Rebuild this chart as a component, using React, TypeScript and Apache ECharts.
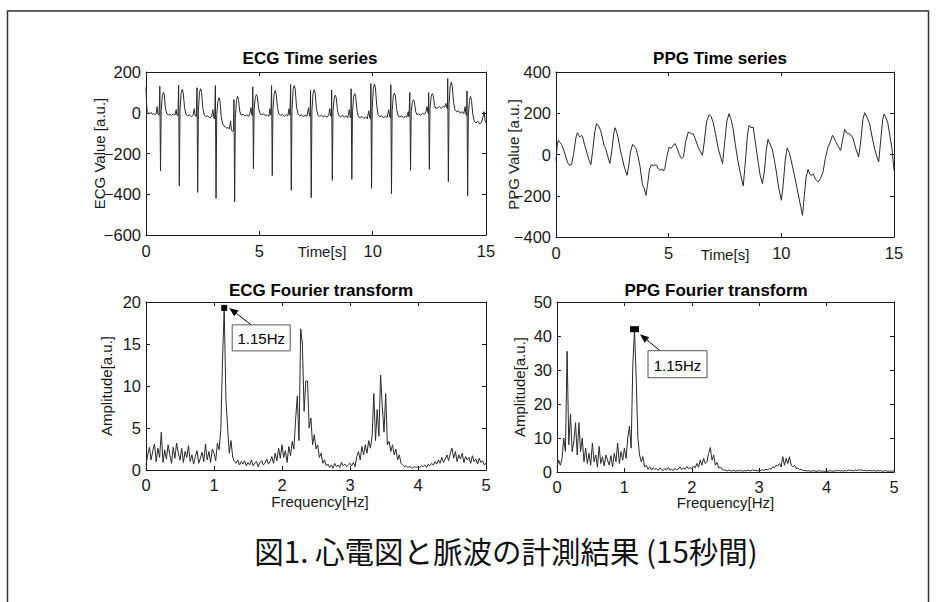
import React, { useEffect, useRef } from "react";
import * as echarts from "echarts";

// ---------- DATA ----------
// ECG time series [time s, value a.u.]
const ecgPoints: [number, number][] = [
  [0.0, 125], [0.02, 60], [0.05, 5], [0.1, 0], [0.16, -5], [0.22, 2], [0.28, -8], [0.34, -3], [0.4, -10], [0.45, -6], [0.49, 30], [0.53, -8], [0.58, -12],
  [0.61, 130], [0.64, -286], [0.67, 10], [0.72, 85], [0.77, 100], [0.8, 92], [0.86, 20], [0.92, -5], [0.98, -10], [1.05, -8], [1.12, -14], [1.2, -5], [1.28, -12], [1.33, 15], [1.36, -10], [1.41, -15],
  [1.44, 135], [1.47, -360], [1.5, 15], [1.55, 95], [1.6, 115], [1.64, 100], [1.7, 25], [1.76, -8], [1.84, -15], [1.92, -10], [2.0, -20], [2.08, -12], [2.13, 20], [2.17, -15], [2.22, -18],
  [2.25, 123], [2.28, -391], [2.31, 10], [2.36, 100], [2.41, 118], [2.45, 100], [2.51, 20], [2.57, -10], [2.65, -20], [2.73, -15], [2.82, -25], [2.9, -18], [2.95, 15], [2.99, -25], [3.03, -30],
  [3.06, 133], [3.09, -420], [3.12, -10], [3.17, 55], [3.22, 73], [3.26, 60], [3.32, -20], [3.38, -55], [3.44, -65], [3.5, -70], [3.56, -75], [3.62, -72], [3.68, -80], [3.73, -40], [3.77, -85], [3.82, -92], [3.86, -88],
  [3.88, 64], [3.91, -437], [3.94, -30], [3.99, 60], [4.04, 80], [4.08, 65], [4.14, 5], [4.2, -12], [4.28, -8], [4.36, -15], [4.44, -10], [4.52, -18], [4.58, -5], [4.63, 25], [4.67, -10], [4.7, -15],
  [4.71, 127], [4.74, -275], [4.77, 15], [4.82, 75], [4.87, 89], [4.91, 80], [4.97, 20], [5.03, -5], [5.11, -10], [5.19, -5], [5.27, -15], [5.35, -10], [5.42, -18], [5.47, 20], [5.51, -12],
  [5.54, 133], [5.57, -308], [5.6, 10], [5.65, 90], [5.7, 109], [5.74, 95], [5.8, 25], [5.86, -5], [5.94, -12], [6.02, -8], [6.1, -18], [6.18, -10], [6.26, -15], [6.31, 20], [6.35, -12],
  [6.38, 138], [6.41, -380], [6.44, 15], [6.49, 115], [6.54, 133], [6.58, 120], [6.64, 30], [6.7, -5], [6.78, -15], [6.86, -10], [6.94, -20], [7.02, -12], [7.1, -18], [7.17, 25], [7.21, -15], [7.24, -18],
  [7.26, 110], [7.29, -417], [7.32, 10], [7.37, 95], [7.42, 113], [7.46, 100], [7.52, 20], [7.58, -10], [7.66, -18], [7.74, -12], [7.82, -20], [7.9, -15], [7.98, -22], [8.06, -12], [8.11, 20], [8.15, -15], [8.18, -20],
  [8.19, 112], [8.22, -332], [8.25, 5], [8.3, 70], [8.35, 86], [8.39, 75], [8.45, 10], [8.51, -15], [8.59, -20], [8.67, -12], [8.75, -22], [8.83, -15], [8.9, -25], [8.97, 15], [9.01, -20], [9.04, -25],
  [9.05, 118], [9.08, -327], [9.11, 5], [9.16, 78], [9.21, 94], [9.25, 80], [9.31, 10], [9.37, -20], [9.45, -25], [9.53, -18], [9.61, -28], [9.69, -20], [9.76, -30], [9.83, 10], [9.87, -25], [9.91, -30],
  [9.92, 143], [9.95, -371], [9.98, 20], [10.03, 120], [10.08, 140], [10.12, 125], [10.18, 35], [10.24, -10], [10.32, -20], [10.4, -15], [10.48, -25], [10.56, -18], [10.64, -22], [10.71, 15], [10.75, -20], [10.79, -25],
  [10.8, 138], [10.83, -398], [10.86, 10], [10.91, 80], [10.96, 97], [11.0, 85], [11.06, 15], [11.12, -15], [11.2, -20], [11.28, -15], [11.36, -25], [11.44, -18], [11.51, -22], [11.57, 5], [11.6, -20], [11.62, -22],
  [11.64, 99], [11.67, -282], [11.7, 5], [11.75, 50], [11.8, 64], [11.84, 55], [11.9, 5], [11.96, -10], [12.04, -5], [12.12, -12], [12.2, -2], [12.28, -8], [12.35, 5], [12.4, 30], [12.44, 0], [12.46, -5],
  [12.47, 99], [12.5, -278], [12.53, 25], [12.58, 80], [12.63, 94], [12.67, 85], [12.73, 35], [12.79, 20], [12.87, 25], [12.95, 30], [13.03, 22], [13.11, 30], [13.18, 28], [13.23, 45], [13.27, 25], [13.3, 20],
  [13.31, 168], [13.34, -339], [13.37, 40], [13.42, 130], [13.47, 150], [13.51, 130], [13.57, 50], [13.63, 15], [13.71, 5], [13.79, 10], [13.87, -2], [13.95, 5], [14.02, -5], [14.08, 30], [14.12, -10], [14.15, -15],
  [14.16, 107], [14.19, -407], [14.22, -15], [14.27, 60], [14.32, 80], [14.36, 60], [14.42, -10], [14.48, -40], [14.56, -50], [14.64, -42], [14.72, -55], [14.8, -48], [14.87, -20], [14.92, 5], [14.96, -40], [15.0, -50],
];

// PPG time series [time s, value a.u.]
const ppgPoints: [number, number][] = [
  [0.0, -30], [0.05, 40], [0.1, 69], [0.18, 58], [0.25, 48], [0.33, 25], [0.44, -12], [0.52, -40], [0.59, -52], [0.69, -49], [0.78, 0], [0.88, 80], [0.95, 106], [1.0, 95], [1.06, 85], [1.12, 92], [1.17, 90], [1.26, 50], [1.36, 12], [1.46, -25], [1.55, -49],
  [1.63, 20], [1.72, 110], [1.8, 150], [1.88, 140], [1.98, 117], [2.06, 80], [2.13, 45], [2.2, 30], [2.3, -10], [2.39, -44], [2.48, 20], [2.56, 100], [2.62, 130], [2.69, 110], [2.76, 80], [2.84, 30], [2.91, -4], [3.03, -60], [3.15, -101],
  [3.22, -60], [3.3, 10], [3.4, 49], [3.47, 40], [3.55, 28], [3.64, -10], [3.72, -52], [3.84, -149], [3.92, -165], [3.99, -198], [4.06, -150], [4.15, -70], [4.24, -49], [4.32, -55], [4.4, -50], [4.46, -52], [4.54, -70], [4.61, -77], [4.7, -70], [4.77, -80], [4.83, -68],
  [4.92, -10], [5.02, 36], [5.1, 30], [5.18, 40], [5.28, 53], [5.38, 30], [5.47, 0], [5.57, -20], [5.66, -10], [5.75, 60], [5.87, 109], [5.95, 105], [6.02, 100], [6.09, 101], [6.2, 70], [6.31, 36], [6.4, 15], [6.5, -4],
  [6.58, 60], [6.68, 160], [6.8, 193], [6.88, 185], [6.97, 158], [7.08, 100], [7.2, 28], [7.3, -10], [7.39, -44], [7.48, 50], [7.58, 160], [7.68, 198], [7.77, 170], [7.86, 125], [7.97, 40], [8.08, -36], [8.2, -100], [8.31, -152],
  [8.4, -40], [8.5, 100], [8.57, 141], [8.65, 130], [8.75, 133], [8.86, 50], [8.97, -36], [9.06, -100], [9.16, -141], [9.25, -80], [9.33, 20], [9.41, 74], [9.5, 50], [9.59, 28], [9.68, -20], [9.78, -85], [9.88, -160], [9.94, -190], [10.0, -222],
  [10.08, -150], [10.17, -30], [10.26, 32], [10.35, 10], [10.45, -36], [10.58, -100], [10.7, -165], [10.82, -230], [10.94, -295], [11.02, -200], [11.1, -110], [11.19, -72], [11.26, -95], [11.33, -101], [11.42, -95], [11.52, -120], [11.63, -133], [11.74, -115], [11.85, -85],
  [11.95, -20], [12.07, 36], [12.17, 60], [12.27, 93], [12.34, 80], [12.41, 64], [12.52, 40], [12.63, 20], [12.72, 70], [12.81, 122], [12.9, 105], [13.0, 101], [13.08, 95], [13.18, 80], [13.3, 30], [13.43, -12],
  [13.52, 60], [13.62, 170], [13.7, 203], [13.8, 180], [13.92, 150], [14.02, 90], [14.14, 28], [14.24, -10], [14.32, -36], [14.42, 80], [14.5, 170], [14.56, 196], [14.64, 180], [14.73, 150], [14.82, 90], [14.91, 28], [15.0, -77],
];

// Spectra: amplitude per frequency bin, bins from 0 Hz to 5 Hz every freqStep
const freqStep = 0.025;
const ecgSpectrum: number[] = [
  0.6, 1.8, 2.7, 1.2, 2.3, 3.1, 1.0, 2.6, 1.5, 4.5, 0.9, 2.4, 1.3, 3.0, 1.8, 0.8, 2.7, 1.4, 3.2, 2.0,
  1.2, 2.6, 0.9, 2.2, 1.5, 2.9, 1.0, 1.8, 0.7, 1.6, 2.3, 0.8, 1.4, 2.1, 1.0, 3.1, 1.2, 2.2, 0.9, 2.5,
  2.0, 1.1, 3.2, 2.4, 4.8, 13.0, 19.3, 8.5, 5.0, 2.0, 3.5, 1.5, 1.0, 0.8, 1.2, 0.6, 1.0, 0.7, 1.1, 0.5,
  0.9, 0.6, 1.2, 0.5, 0.8, 1.0, 0.4, 0.9, 1.1, 0.6, 0.8, 1.3, 0.7, 1.0, 1.6, 0.8, 2.0, 1.1, 2.6, 1.4,
  3.0, 1.5, 2.3, 0.9, 2.8, 1.7, 3.4, 2.5, 6.0, 8.8, 3.5, 16.8, 15.0, 7.0, 10.6, 10.6, 5.0, 6.2, 3.0, 4.2,
  2.5, 3.0, 1.5, 2.0, 0.8, 1.2, 0.5, 0.7, 0.3, 0.6, 0.2, 0.8, 0.4, 0.6, 0.3, 0.9, 0.5, 0.7, 0.4, 0.6,
  0.8, 0.5, 0.9, 0.4, 1.6, 2.2, 1.2, 2.8, 1.8, 3.0, 2.0, 3.5, 2.6, 4.0, 9.1, 3.5, 7.2, 4.0, 11.3, 7.6,
  4.5, 9.1, 3.0, 3.4, 2.2, 3.0, 1.8, 2.5, 1.2, 1.8, 0.8, 0.6, 0.4, 0.5, 0.3, 0.4, 0.3, 0.2, 0.4, 0.3,
  0.4, 0.3, 0.5, 0.4, 0.6, 0.3, 0.7, 0.5, 0.8, 0.6, 1.0, 0.7, 1.2, 0.8, 1.5, 0.9, 1.3, 1.8, 1.1, 2.0,
  2.6, 1.4, 2.2, 1.0, 1.8, 1.3, 2.0, 0.9, 1.6, 1.2, 1.5, 0.8, 1.7, 1.0, 1.3, 0.7, 1.4, 0.9, 1.1, 0.6,
  0.8,
];
const ppgSpectrum: number[] = [
  1.5, 3.5, 2.0, 4.0, 10.0, 6.0, 35.5, 8.0, 17.0, 6.0, 9.0, 14.5, 5.0, 14.5, 6.0, 10.0, 3.0, 7.0, 2.5, 5.5,
  2.0, 8.5, 3.0, 5.0, 1.5, 7.5, 2.5, 4.5, 1.8, 5.0, 3.5, 2.0, 4.8, 1.5, 5.5, 3.0, 8.5, 2.5, 6.0, 3.5,
  7.0, 4.0, 10.0, 13.5, 7.0, 31.5, 42.0, 27.5, 10.0, 5.0, 3.0, 4.5, 1.5, 2.0, 0.8, 1.5, 0.6, 1.2, 0.8, 1.0,
  0.5, 1.2, 0.7, 0.4, 1.0, 0.6, 1.3, 0.5, 0.8, 0.4, 1.1, 0.6, 0.9, 1.5, 0.7, 1.2, 0.8, 1.6, 1.0, 1.3,
  0.9, 1.8, 1.2, 2.5, 1.4, 3.5, 2.0, 4.0, 2.5, 3.0, 5.5, 7.2, 3.5, 5.0, 2.0, 2.8, 1.2, 1.5, 0.8, 0.6,
  0.5, 0.3, 0.6, 0.4, 0.3, 0.5, 0.2, 0.4, 0.3, 0.5, 0.2, 0.4, 0.3, 0.5, 0.4, 0.3, 0.6, 0.4, 0.5, 0.3,
  0.5, 0.4, 0.7, 0.5, 0.8, 0.6, 1.0, 0.8, 1.5, 1.2, 2.0, 1.8, 2.5, 1.5, 4.5, 2.0, 4.0, 2.5, 4.5, 2.0,
  1.5, 2.0, 1.0, 1.2, 0.6, 0.8, 0.4, 0.5, 0.3, 0.4, 0.3, 0.2, 0.4, 0.3, 0.2, 0.3, 0.4, 0.2, 0.3, 0.2,
  0.3, 0.2, 0.4, 0.3, 0.2, 0.4, 0.3, 0.5, 0.3, 0.4, 0.2, 0.5, 0.3, 0.6, 0.4, 0.5, 0.3, 0.6, 0.4, 0.7,
  0.5, 0.6, 0.4, 0.5, 0.3, 0.5, 0.4, 0.3, 0.5, 0.2, 0.4, 0.3, 0.5, 0.2, 0.3, 0.4, 0.2, 0.3, 0.2, 0.3,
  0.2,
];

const peakFreq = 1.15;
const ecgPeakAmp = 19.3;
const ppgPeakAmp = 42;
const peakLabel = "1.15Hz";

const panelTitles = ["ECG Time series", "PPG Time series", "ECG Fourier transform", "PPG Fourier transform"];
const xNames = ["Time[s]", "Time[s]", "Frequency[Hz]", "Frequency[Hz]"];
const yNames = ["ECG Value [a.u.]", "PPG Value [a.u.]", "Amplitude[a.u.]", "Amplitude[a.u.]"];
const xRanges = [[0, 15, 5], [0, 15, 5], [0, 5, 1], [0, 5, 1]];
const yRanges = [[-600, 200, 200], [-400, 400, 200], [0, 20, 5], [0, 50, 10]];
const caption = "図1. 心電図と脈波の計測結果 (15秒間)";

// ---------- LAYOUT ----------
const grids = [
  { left: 146, top: 72, width: 340, height: 163 },
  { left: 556, top: 72, width: 338, height: 165 },
  { left: 146, top: 302, width: 340, height: 168 },
  { left: 557, top: 302, width: 337, height: 170 },
];
const xNameGaps = [9, 10, 24, 23];
const xNamePad = [[0, 0, 0, 12], [0, 0, 0, 0], [0, 0, 0, 8], [0, 0, 0, 0]];
const xLabelMargin = [7, 7, 6, 6];
const yNameGaps = [39, 35, 32, 30];
const titlePos = [[310, 58], [720, 58], [321, 290], [716, 290]];

const FONT = "'Liberation Sans', Arial, sans-serif";
const INK = "#1a1a1a";

const fmtNum = (v: number) => String(v).replace("-", "\u2212");

export default function App() {
  const ref = useRef<HTMLDivElement>(null);

  useEffect(() => {
    if (!ref.current) return;
    const chart = echarts.init(ref.current, undefined, { renderer: "svg" });

    const xAxis: any[] = [];
    const yAxis: any[] = [];
    grids.forEach((_, i) => {
      const [xmin, xmax, xint] = xRanges[i];
      const [ymin, ymax, yint] = yRanges[i];
      const common = {
        gridIndex: i,
        type: "value",
        axisLine: { show: true, onZero: false, lineStyle: { color: INK, width: 1 } },
        axisTick: { show: true, inside: true, length: 4, lineStyle: { color: INK } },
        splitLine: { show: false },
      };
      xAxis.push({
        ...common,
        position: "bottom",
        min: xmin, max: xmax, interval: xint,
        name: xNames[i],
        nameLocation: "middle",
        nameGap: xNameGaps[i],
        nameMoveOverlap: false,
        nameTextStyle: { fontFamily: FONT, fontSize: 15, color: INK, padding: xNamePad[i] },
        axisLabel: { show: true, fontFamily: FONT, fontSize: 16.5, color: INK, margin: xLabelMargin[i], formatter: fmtNum },
      });
      xAxis.push({
        ...common,
        position: "top",
        min: xmin, max: xmax, interval: xint,
        axisLabel: { show: false },
      });
      yAxis.push({
        ...common,
        position: "left",
        min: ymin, max: ymax, interval: yint,
        name: yNames[i],
        nameLocation: "middle",
        nameGap: yNameGaps[i],
        nameMoveOverlap: false,
        nameTextStyle: { fontFamily: FONT, fontSize: 15, color: INK },
        axisLabel: { show: true, fontFamily: FONT, fontSize: 16.5, color: INK, margin: 5, formatter: fmtNum },
      });
      yAxis.push({
        ...common,
        position: "right",
        min: ymin, max: ymax, interval: yint,
        axisLabel: { show: false },
      });
    });

    const lineStyle = { color: "#2a2a2a", width: 1 };
    const specData = (arr: number[]) => arr.map((v, i) => [+(i * freqStep).toFixed(3), v]);

    chart.setOption({
      animation: false,
      backgroundColor: "#fff",
      grid: grids,
      xAxis,
      yAxis,
      series: [
        { type: "line", xAxisIndex: 0, yAxisIndex: 0, data: ecgPoints, showSymbol: false, lineStyle, silent: true },
        { type: "line", xAxisIndex: 2, yAxisIndex: 2, data: ppgPoints, showSymbol: false, lineStyle, silent: true },
        {
          type: "line", xAxisIndex: 4, yAxisIndex: 4, data: specData(ecgSpectrum), showSymbol: false, lineStyle, silent: true,
          markPoint: { symbol: "rect", symbolSize: [6, 6], itemStyle: { color: "#000" }, label: { show: false }, data: [{ coord: [peakFreq, ecgPeakAmp] }] },
        },
        {
          type: "line", xAxisIndex: 6, yAxisIndex: 6, data: specData(ppgSpectrum), showSymbol: false, lineStyle, silent: true,
          markPoint: { symbol: "rect", symbolSize: [9, 6], itemStyle: { color: "#000" }, label: { show: false }, data: [{ coord: [peakFreq, ppgPeakAmp] }] },
        },
      ],
    });

    const graphic: any[] = [];
    // outer frame
    graphic.push({
      type: "rect", silent: true, z: -10,
      shape: { x: 7.5, y: 11, width: 921, height: 700 },
      style: { fill: "none", stroke: "#333", lineWidth: 1.5 },
    });
    // titles
    panelTitles.forEach((t, i) => {
      graphic.push({
        type: "text", x: titlePos[i][0], y: titlePos[i][1],
        style: { text: t, fontFamily: FONT, fontSize: 17, fontWeight: "bold", fill: "#000", align: "center", verticalAlign: "middle" },
      });
    });
    // caption
    graphic.push({
      type: "text", x: 506, y: 550,
      style: { text: caption, fontFamily: "'Noto Sans CJK JP', sans-serif", fontSize: 29.5, fill: "#111", align: "center", verticalAlign: "middle" },
    });

    const annotate = (xi: number, yi: number, amp: number, box: number[], tailDx: number, tip: number[]) => {
      const p = chart.convertToPixel({ xAxisIndex: xi, yAxisIndex: yi }, [peakFreq, amp]) as number[];
      const bx = p[0] + box[0], by = p[1] + box[1], bw = box[2], bh = box[3];
      const tx = p[0] + tip[0], ty = p[1] + tip[1];
      const sx = bx + tailDx, sy = by;
      const dx = sx - tx, dy = sy - ty;
      const len = Math.hypot(dx, dy);
      const ux = dx / len, uy = dy / len;
      const L = 9, W = 3.5;
      const cx = tx + ux * L, cy = ty + uy * L;
      graphic.push({ type: "line", silent: true, shape: { x1: cx, y1: cy, x2: sx, y2: sy }, style: { stroke: "#000", lineWidth: 1 } });
      graphic.push({
        type: "polygon", silent: true,
        shape: { points: [[tx, ty], [cx - uy * W, cy + ux * W], [cx + uy * W, cy - ux * W]] },
        style: { fill: "#000" },
      });
      graphic.push({ type: "rect", silent: true, shape: { x: bx, y: by, width: bw, height: bh }, style: { fill: "#fff", stroke: "#555", lineWidth: 1 } });
      graphic.push({
        type: "text", x: bx + bw / 2, y: by + bh / 2 + 1,
        style: { text: peakLabel, fontFamily: FONT, fontSize: 15, fill: "#000", align: "center", verticalAlign: "middle" },
      });
    };
    annotate(4, 4, ecgPeakAmp, [8, 17, 58, 26], 19, [5, 0]);
    annotate(6, 6, ppgPeakAmp, [13.5, 21.5, 59, 27], 12, [5.5, 5]);

    chart.setOption({ graphic });

    return () => chart.dispose();
  }, []);

  return <div ref={ref} style={{ position: "fixed", left: 0, top: 0, width: 939, height: 602, background: "#fff" }} />;
}
